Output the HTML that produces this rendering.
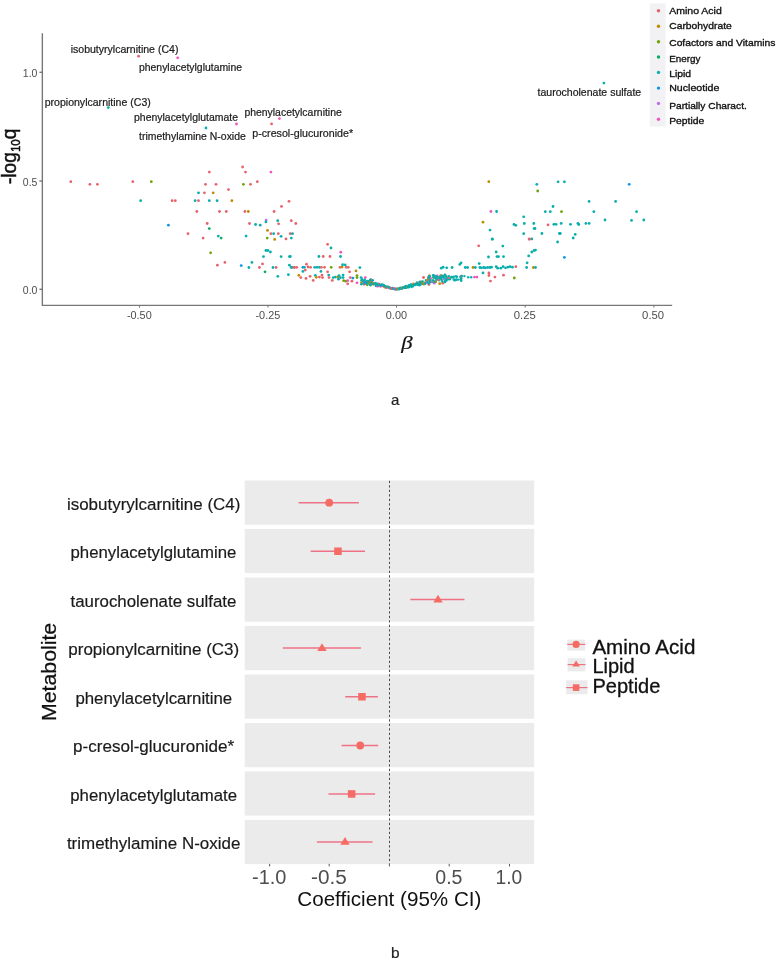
<!DOCTYPE html>
<html lang="en">
<head>
<meta charset="utf-8">
<title>Metabolite associations: volcano plot and coefficient plot</title>
<style>
  html, body { margin: 0; padding: 0; background: #ffffff; }
  body { width: 776px; height: 960px; overflow: hidden; font-family: 'Liberation Sans', Arial, Helvetica, sans-serif; }
  svg { display: block; }
  text { white-space: pre; }
</style>
</head>
<body>
<svg width="776" height="960" viewBox="0 0 776 960" role="img" aria-label="Figure with panels a and b">
<rect width="776" height="960" fill="#ffffff"/>
<g id="volcano-axes" stroke="#777777" stroke-width="1.4" fill="none">
<path d="M42.35 33.2 V305.4 H672.2"/>
<path d="M39.4 72.3 H42.4"/>
<path d="M39.4 181.0 H42.4"/>
<path d="M39.4 289.3 H42.4"/>
<path d="M139.5 305.4 V307.6" stroke-width="1.1"/>
<path d="M268.0 305.4 V307.6" stroke-width="1.1"/>
<path d="M396.5 305.4 V307.6" stroke-width="1.1"/>
<path d="M525.2 305.4 V307.6" stroke-width="1.1"/>
<path d="M653.9 305.4 V307.6" stroke-width="1.1"/>
</g>
<g id="volcano-ticklabels">
<text x="37.4" y="77.0" font-family="'Liberation Sans', Arial, Helvetica, sans-serif" font-size="10.8" fill="#4d4d4d" text-anchor="end" textLength="14.6" lengthAdjust="spacingAndGlyphs" >1.0</text>
<text x="37.4" y="185.6" font-family="'Liberation Sans', Arial, Helvetica, sans-serif" font-size="10.8" fill="#4d4d4d" text-anchor="end" textLength="14.6" lengthAdjust="spacingAndGlyphs" >0.5</text>
<text x="37.4" y="293.9" font-family="'Liberation Sans', Arial, Helvetica, sans-serif" font-size="10.8" fill="#4d4d4d" text-anchor="end" textLength="14.6" lengthAdjust="spacingAndGlyphs" >0.0</text>
<text x="126.9" y="319.0" font-family="'Liberation Sans', Arial, Helvetica, sans-serif" font-size="10.8" fill="#4d4d4d" text-anchor="start" textLength="24.8" lengthAdjust="spacingAndGlyphs" >-0.50</text>
<text x="255.5" y="319.0" font-family="'Liberation Sans', Arial, Helvetica, sans-serif" font-size="10.8" fill="#4d4d4d" text-anchor="start" textLength="24.8" lengthAdjust="spacingAndGlyphs" >-0.25</text>
<text x="385.8" y="319.0" font-family="'Liberation Sans', Arial, Helvetica, sans-serif" font-size="10.8" fill="#4d4d4d" text-anchor="start" textLength="21.2" lengthAdjust="spacingAndGlyphs" >0.00</text>
<text x="513.8" y="319.0" font-family="'Liberation Sans', Arial, Helvetica, sans-serif" font-size="10.8" fill="#4d4d4d" text-anchor="start" textLength="22.0" lengthAdjust="spacingAndGlyphs" >0.25</text>
<text x="642.1" y="319.0" font-family="'Liberation Sans', Arial, Helvetica, sans-serif" font-size="10.8" fill="#4d4d4d" text-anchor="start" textLength="22.0" lengthAdjust="spacingAndGlyphs" >0.50</text>
</g>
<text transform="translate(16.35,184.1) rotate(-90) scale(1,1.1)" font-family="'Liberation Sans', Arial, Helvetica, sans-serif" font-size="19" fill="#111" stroke="#111" stroke-width="0.45" textLength="55.6" lengthAdjust="spacingAndGlyphs">-log<tspan font-size="11.5" dy="3.2">10</tspan><tspan dy="-3.2">q</tspan></text>
<text transform="translate(401.3,349.0) scale(1.2,1)" font-family="'Liberation Serif', 'DejaVu Serif', serif" font-size="19" font-style="italic" fill="#111" stroke="#111" stroke-width="0.15">β</text>
<g id="volcano-points">
<circle cx="138.6" cy="56.2" r="1.4" fill="#E8626C"/>
<circle cx="177.7" cy="57.8" r="1.4" fill="#F056C0"/>
<circle cx="108.3" cy="107.6" r="1.4" fill="#0AAEAC"/>
<circle cx="236.5" cy="124.0" r="1.4" fill="#F056C0"/>
<circle cx="206.0" cy="128.0" r="1.4" fill="#0AAEAC"/>
<circle cx="271.6" cy="123.9" r="1.4" fill="#E8626C"/>
<circle cx="279.4" cy="118.6" r="1.4" fill="#F056C0"/>
<circle cx="603.9" cy="83.1" r="1.4" fill="#0AAEAC"/>
<circle cx="70.8" cy="181.7" r="1.4" fill="#E8626C"/>
<circle cx="89.9" cy="184.3" r="1.4" fill="#E8626C"/>
<circle cx="97.4" cy="184.3" r="1.4" fill="#E8626C"/>
<circle cx="132.8" cy="181.7" r="1.4" fill="#E8626C"/>
<circle cx="151.3" cy="181.7" r="1.4" fill="#72A208"/>
<circle cx="140.7" cy="200.7" r="1.4" fill="#0AAEAC"/>
<circle cx="172.1" cy="200.7" r="1.4" fill="#E8626C"/>
<circle cx="168.4" cy="225.2" r="1.4" fill="#0C96E6"/>
<circle cx="242.6" cy="167.0" r="1.4" fill="#E8626C"/>
<circle cx="245.5" cy="172.1" r="1.4" fill="#E8626C"/>
<circle cx="209.3" cy="172.1" r="1.4" fill="#E8626C"/>
<circle cx="270.9" cy="172.1" r="1.4" fill="#F056C0"/>
<circle cx="257.3" cy="181.7" r="1.4" fill="#E8626C"/>
<circle cx="205.5" cy="184.3" r="1.4" fill="#E8626C"/>
<circle cx="216.0" cy="184.3" r="1.4" fill="#E8626C"/>
<circle cx="243.4" cy="184.3" r="1.4" fill="#72A208"/>
<circle cx="250.5" cy="184.3" r="1.4" fill="#E8626C"/>
<circle cx="228.5" cy="189.6" r="1.4" fill="#E8626C"/>
<circle cx="198.5" cy="192.8" r="1.4" fill="#0AAEAC"/>
<circle cx="204.4" cy="192.8" r="1.4" fill="#E8626C"/>
<circle cx="213.2" cy="192.8" r="1.4" fill="#BD8B00"/>
<circle cx="175.3" cy="200.7" r="1.4" fill="#E8626C"/>
<circle cx="195.1" cy="200.7" r="1.4" fill="#0AAEAC"/>
<circle cx="198.5" cy="200.7" r="1.4" fill="#E8626C"/>
<circle cx="209.3" cy="200.7" r="1.4" fill="#0AAEAC"/>
<circle cx="217.1" cy="200.7" r="1.4" fill="#0AAEAC"/>
<circle cx="231.9" cy="200.7" r="1.4" fill="#BD8B00"/>
<circle cx="289.0" cy="201.3" r="1.4" fill="#E8626C"/>
<circle cx="281.5" cy="206.4" r="1.4" fill="#E8626C"/>
<circle cx="196.8" cy="211.5" r="1.4" fill="#E8626C"/>
<circle cx="219.5" cy="211.5" r="1.4" fill="#E8626C"/>
<circle cx="226.3" cy="211.5" r="1.4" fill="#E8626C"/>
<circle cx="244.9" cy="211.5" r="1.4" fill="#E8626C"/>
<circle cx="248.3" cy="211.5" r="1.4" fill="#BD8B00"/>
<circle cx="274.1" cy="211.5" r="1.4" fill="#E8626C"/>
<circle cx="266.2" cy="220.1" r="1.4" fill="#B672EC"/>
<circle cx="265.9" cy="221.9" r="1.4" fill="#0AAEAC"/>
<circle cx="277.7" cy="220.7" r="1.4" fill="#0AAEAC"/>
<circle cx="291.3" cy="220.7" r="1.4" fill="#E8626C"/>
<circle cx="207.2" cy="223.5" r="1.4" fill="#E8626C"/>
<circle cx="249.5" cy="223.5" r="1.4" fill="#E8626C"/>
<circle cx="278.6" cy="223.8" r="1.4" fill="#E8626C"/>
<circle cx="255.6" cy="224.5" r="1.4" fill="#0AAEAC"/>
<circle cx="260.2" cy="225.2" r="1.4" fill="#0AAEAC"/>
<circle cx="209.3" cy="228.6" r="1.4" fill="#08AC62"/>
<circle cx="267.5" cy="230.4" r="1.4" fill="#BD8B00"/>
<circle cx="188.0" cy="233.7" r="1.4" fill="#E8626C"/>
<circle cx="270.9" cy="233.7" r="1.4" fill="#E8626C"/>
<circle cx="273.7" cy="233.7" r="1.4" fill="#0AAEAC"/>
<circle cx="278.3" cy="233.7" r="1.4" fill="#E8626C"/>
<circle cx="290.2" cy="233.7" r="1.4" fill="#E8626C"/>
<circle cx="292.5" cy="233.7" r="1.4" fill="#0AAEAC"/>
<circle cx="246.1" cy="236.1" r="1.4" fill="#0AAEAC"/>
<circle cx="218.3" cy="236.1" r="1.4" fill="#0AAEAC"/>
<circle cx="221.1" cy="238.1" r="1.4" fill="#08AC62"/>
<circle cx="203.1" cy="238.1" r="1.4" fill="#E8626C"/>
<circle cx="281.1" cy="236.3" r="1.4" fill="#0AAEAC"/>
<circle cx="267.2" cy="238.1" r="1.4" fill="#72A208"/>
<circle cx="286.0" cy="238.9" r="1.4" fill="#E8626C"/>
<circle cx="291.3" cy="238.1" r="1.4" fill="#0AAEAC"/>
<circle cx="274.7" cy="239.4" r="1.4" fill="#BD8B00"/>
<circle cx="210.6" cy="252.8" r="1.4" fill="#72A208"/>
<circle cx="265.9" cy="250.5" r="1.4" fill="#0AAEAC"/>
<circle cx="267.8" cy="250.5" r="1.4" fill="#0AAEAC"/>
<circle cx="270.4" cy="252.0" r="1.4" fill="#0AAEAC"/>
<circle cx="263.5" cy="256.6" r="1.4" fill="#0AAEAC"/>
<circle cx="281.1" cy="256.6" r="1.4" fill="#0AAEAC"/>
<circle cx="289.4" cy="256.6" r="1.4" fill="#0AAEAC"/>
<circle cx="224.9" cy="262.4" r="1.4" fill="#E8626C"/>
<circle cx="251.9" cy="262.4" r="1.4" fill="#0AAEAC"/>
<circle cx="262.5" cy="263.9" r="1.4" fill="#E8626C"/>
<circle cx="217.4" cy="265.2" r="1.4" fill="#E8626C"/>
<circle cx="241.2" cy="265.6" r="1.4" fill="#0C96E6"/>
<circle cx="248.9" cy="267.5" r="1.4" fill="#0AAEAC"/>
<circle cx="259.4" cy="267.5" r="1.4" fill="#E8626C"/>
<circle cx="273.0" cy="267.5" r="1.4" fill="#0AAEAC"/>
<circle cx="276.1" cy="267.5" r="1.4" fill="#E8626C"/>
<circle cx="289.4" cy="265.2" r="1.4" fill="#0AAEAC"/>
<circle cx="291.8" cy="267.5" r="1.4" fill="#0AAEAC"/>
<circle cx="294.4" cy="267.5" r="1.4" fill="#E8626C"/>
<circle cx="265.0" cy="271.8" r="1.4" fill="#08AC62"/>
<circle cx="288.4" cy="274.7" r="1.4" fill="#0AAEAC"/>
<circle cx="277.8" cy="276.3" r="1.4" fill="#0AAEAC"/>
<circle cx="295.8" cy="223.5" r="1.4" fill="#E8626C"/>
<circle cx="327.6" cy="244.3" r="1.4" fill="#E8626C"/>
<circle cx="331.0" cy="248.0" r="1.4" fill="#0AAEAC"/>
<circle cx="340.8" cy="252.2" r="1.4" fill="#F056C0"/>
<circle cx="290.3" cy="256.5" r="1.4" fill="#0AAEAC"/>
<circle cx="318.9" cy="256.5" r="1.4" fill="#0AAEAC"/>
<circle cx="323.2" cy="256.5" r="1.4" fill="#E8626C"/>
<circle cx="330.0" cy="256.5" r="1.4" fill="#E8626C"/>
<circle cx="340.5" cy="256.5" r="1.4" fill="#0AAEAC"/>
<circle cx="291.2" cy="267.3" r="1.4" fill="#0AAEAC"/>
<circle cx="294.1" cy="267.3" r="1.4" fill="#E8626C"/>
<circle cx="296.7" cy="267.3" r="1.4" fill="#E8626C"/>
<circle cx="302.9" cy="267.3" r="1.4" fill="#0C96E6"/>
<circle cx="304.4" cy="267.3" r="1.4" fill="#0AAEAC"/>
<circle cx="306.5" cy="264.2" r="1.4" fill="#E8626C"/>
<circle cx="308.0" cy="267.0" r="1.4" fill="#E8626C"/>
<circle cx="310.6" cy="267.3" r="1.4" fill="#E8626C"/>
<circle cx="314.7" cy="267.3" r="1.4" fill="#0AAEAC"/>
<circle cx="317.0" cy="267.3" r="1.4" fill="#0AAEAC"/>
<circle cx="319.4" cy="267.3" r="1.4" fill="#0AAEAC"/>
<circle cx="321.4" cy="267.3" r="1.4" fill="#E8626C"/>
<circle cx="324.5" cy="267.3" r="1.4" fill="#E8626C"/>
<circle cx="331.2" cy="267.3" r="1.4" fill="#72A208"/>
<circle cx="340.0" cy="267.3" r="1.4" fill="#E8626C"/>
<circle cx="342.1" cy="267.0" r="1.4" fill="#BD8B00"/>
<circle cx="342.6" cy="264.7" r="1.4" fill="#0AAEAC"/>
<circle cx="345.2" cy="264.9" r="1.4" fill="#0AAEAC"/>
<circle cx="346.2" cy="267.3" r="1.4" fill="#E8626C"/>
<circle cx="348.2" cy="267.3" r="1.4" fill="#E8626C"/>
<circle cx="359.9" cy="267.6" r="1.4" fill="#0AAEAC"/>
<circle cx="302.9" cy="271.4" r="1.4" fill="#0AAEAC"/>
<circle cx="305.3" cy="270.1" r="1.4" fill="#E8626C"/>
<circle cx="320.9" cy="271.4" r="1.4" fill="#0AAEAC"/>
<circle cx="327.6" cy="271.8" r="1.4" fill="#E8626C"/>
<circle cx="349.6" cy="271.8" r="1.4" fill="#E8626C"/>
<circle cx="356.0" cy="270.9" r="1.4" fill="#BD8B00"/>
<circle cx="298.8" cy="275.3" r="1.4" fill="#BD8B00"/>
<circle cx="300.8" cy="277.6" r="1.4" fill="#E8626C"/>
<circle cx="306.0" cy="278.4" r="1.4" fill="#E8626C"/>
<circle cx="310.1" cy="276.3" r="1.4" fill="#E8626C"/>
<circle cx="315.3" cy="275.3" r="1.4" fill="#0AAEAC"/>
<circle cx="316.3" cy="277.3" r="1.4" fill="#BD8B00"/>
<circle cx="319.4" cy="277.1" r="1.4" fill="#E8626C"/>
<circle cx="322.0" cy="275.1" r="1.4" fill="#E8626C"/>
<circle cx="322.5" cy="277.6" r="1.4" fill="#E8626C"/>
<circle cx="328.7" cy="275.1" r="1.4" fill="#0AAEAC"/>
<circle cx="329.0" cy="277.6" r="1.4" fill="#E8626C"/>
<circle cx="333.3" cy="277.6" r="1.4" fill="#0AAEAC"/>
<circle cx="335.4" cy="277.1" r="1.4" fill="#0AAEAC"/>
<circle cx="337.9" cy="276.9" r="1.4" fill="#BD8B00"/>
<circle cx="339.0" cy="275.6" r="1.4" fill="#0AAEAC"/>
<circle cx="340.5" cy="277.6" r="1.4" fill="#0AAEAC"/>
<circle cx="343.1" cy="275.1" r="1.4" fill="#0AAEAC"/>
<circle cx="343.1" cy="277.6" r="1.4" fill="#0AAEAC"/>
<circle cx="343.6" cy="280.7" r="1.4" fill="#72A208"/>
<circle cx="313.2" cy="280.4" r="1.4" fill="#E8626C"/>
<circle cx="332.3" cy="280.4" r="1.4" fill="#E8626C"/>
<circle cx="338.5" cy="279.2" r="1.4" fill="#0AAEAC"/>
<circle cx="345.7" cy="281.2" r="1.4" fill="#72A208"/>
<circle cx="347.7" cy="283.8" r="1.4" fill="#E8626C"/>
<circle cx="347.7" cy="280.7" r="1.4" fill="#F056C0"/>
<circle cx="350.3" cy="277.6" r="1.4" fill="#E8626C"/>
<circle cx="351.9" cy="281.2" r="1.4" fill="#E8626C"/>
<circle cx="352.9" cy="278.1" r="1.4" fill="#0C96E6"/>
<circle cx="357.0" cy="275.6" r="1.4" fill="#72A208"/>
<circle cx="357.0" cy="277.6" r="1.4" fill="#72A208"/>
<circle cx="357.0" cy="282.8" r="1.4" fill="#F056C0"/>
<circle cx="361.1" cy="277.6" r="1.4" fill="#0AAEAC"/>
<circle cx="365.3" cy="277.6" r="1.4" fill="#F056C0"/>
<circle cx="363.7" cy="281.2" r="1.4" fill="#0AAEAC"/>
<circle cx="367.3" cy="281.2" r="1.4" fill="#0AAEAC"/>
<circle cx="364.2" cy="284.3" r="1.4" fill="#E8626C"/>
<circle cx="368.9" cy="283.3" r="1.4" fill="#0AAEAC"/>
<circle cx="488.8" cy="181.7" r="1.4" fill="#BD8B00"/>
<circle cx="490.9" cy="211.5" r="1.4" fill="#F056C0"/>
<circle cx="496.6" cy="211.5" r="1.4" fill="#0AAEAC"/>
<circle cx="483.0" cy="222.2" r="1.4" fill="#BD8B00"/>
<circle cx="490.0" cy="230.1" r="1.4" fill="#0AAEAC"/>
<circle cx="492.3" cy="238.9" r="1.4" fill="#0AAEAC"/>
<circle cx="523.7" cy="216.8" r="1.4" fill="#0AAEAC"/>
<circle cx="514.0" cy="224.5" r="1.4" fill="#0AAEAC"/>
<circle cx="515.8" cy="225.3" r="1.4" fill="#0AAEAC"/>
<circle cx="524.3" cy="223.5" r="1.4" fill="#0AAEAC"/>
<circle cx="533.8" cy="223.5" r="1.4" fill="#0AAEAC"/>
<circle cx="534.1" cy="228.6" r="1.4" fill="#0AAEAC"/>
<circle cx="523.7" cy="233.7" r="1.4" fill="#0AAEAC"/>
<circle cx="529.1" cy="238.9" r="1.4" fill="#E8626C"/>
<circle cx="531.8" cy="238.9" r="1.4" fill="#0AAEAC"/>
<circle cx="492.3" cy="239.3" r="1.4" fill="#0AAEAC"/>
<circle cx="529.4" cy="239.3" r="1.4" fill="#E8626C"/>
<circle cx="478.7" cy="245.8" r="1.4" fill="#E8626C"/>
<circle cx="502.8" cy="246.1" r="1.4" fill="#0AAEAC"/>
<circle cx="496.2" cy="252.0" r="1.4" fill="#0AAEAC"/>
<circle cx="488.5" cy="257.0" r="1.4" fill="#0AAEAC"/>
<circle cx="497.0" cy="256.6" r="1.4" fill="#0AAEAC"/>
<circle cx="498.5" cy="256.6" r="1.4" fill="#0AAEAC"/>
<circle cx="503.5" cy="256.6" r="1.4" fill="#0AAEAC"/>
<circle cx="528.7" cy="255.9" r="1.4" fill="#0AAEAC"/>
<circle cx="531.8" cy="252.0" r="1.4" fill="#0AAEAC"/>
<circle cx="534.1" cy="250.5" r="1.4" fill="#0AAEAC"/>
<circle cx="461.1" cy="262.8" r="1.4" fill="#0AAEAC"/>
<circle cx="459.8" cy="264.4" r="1.4" fill="#0AAEAC"/>
<circle cx="479.2" cy="263.6" r="1.4" fill="#0AAEAC"/>
<circle cx="527.1" cy="262.8" r="1.4" fill="#0AAEAC"/>
<circle cx="441.3" cy="268.2" r="1.4" fill="#0AAEAC"/>
<circle cx="443.1" cy="267.2" r="1.4" fill="#0AAEAC"/>
<circle cx="446.7" cy="267.8" r="1.4" fill="#0AAEAC"/>
<circle cx="452.1" cy="267.5" r="1.4" fill="#0AAEAC"/>
<circle cx="465.3" cy="267.5" r="1.4" fill="#0AAEAC"/>
<circle cx="467.6" cy="267.5" r="1.4" fill="#0AAEAC"/>
<circle cx="473.0" cy="267.5" r="1.4" fill="#BD8B00"/>
<circle cx="475.3" cy="267.5" r="1.4" fill="#0AAEAC"/>
<circle cx="479.9" cy="267.5" r="1.4" fill="#0AAEAC"/>
<circle cx="481.5" cy="267.8" r="1.4" fill="#0AAEAC"/>
<circle cx="483.8" cy="267.5" r="1.4" fill="#0AAEAC"/>
<circle cx="485.4" cy="267.8" r="1.4" fill="#0AAEAC"/>
<circle cx="487.7" cy="267.5" r="1.4" fill="#0AAEAC"/>
<circle cx="490.0" cy="267.5" r="1.4" fill="#0AAEAC"/>
<circle cx="491.5" cy="267.2" r="1.4" fill="#0AAEAC"/>
<circle cx="496.2" cy="266.7" r="1.4" fill="#0AAEAC"/>
<circle cx="497.7" cy="268.2" r="1.4" fill="#0AAEAC"/>
<circle cx="500.8" cy="268.2" r="1.4" fill="#0AAEAC"/>
<circle cx="503.1" cy="266.7" r="1.4" fill="#0AAEAC"/>
<circle cx="505.5" cy="267.8" r="1.4" fill="#0AAEAC"/>
<circle cx="507.8" cy="267.2" r="1.4" fill="#0AAEAC"/>
<circle cx="510.1" cy="266.7" r="1.4" fill="#0AAEAC"/>
<circle cx="512.4" cy="267.2" r="1.4" fill="#0AAEAC"/>
<circle cx="515.8" cy="266.7" r="1.4" fill="#E8626C"/>
<circle cx="526.6" cy="267.5" r="1.4" fill="#0AAEAC"/>
<circle cx="533.3" cy="267.5" r="1.4" fill="#BD8B00"/>
<circle cx="483.0" cy="272.9" r="1.4" fill="#0AAEAC"/>
<circle cx="488.9" cy="272.9" r="1.4" fill="#E8626C"/>
<circle cx="488.9" cy="275.5" r="1.4" fill="#E8626C"/>
<circle cx="503.5" cy="275.2" r="1.4" fill="#E8626C"/>
<circle cx="494.9" cy="277.1" r="1.4" fill="#E8626C"/>
<circle cx="514.3" cy="278.0" r="1.4" fill="#72A208"/>
<circle cx="490.5" cy="281.1" r="1.4" fill="#E8626C"/>
<circle cx="474.5" cy="277.1" r="1.4" fill="#F056C0"/>
<circle cx="476.9" cy="277.1" r="1.4" fill="#F056C0"/>
<circle cx="423.5" cy="277.5" r="1.4" fill="#E8626C"/>
<circle cx="445.2" cy="275.2" r="1.4" fill="#E8626C"/>
<circle cx="428.9" cy="284.5" r="1.4" fill="#E8626C"/>
<circle cx="434.3" cy="283.2" r="1.4" fill="#B672EC"/>
<circle cx="439.7" cy="283.7" r="1.4" fill="#BD8B00"/>
<circle cx="442.8" cy="283.2" r="1.4" fill="#E8626C"/>
<circle cx="536.8" cy="184.3" r="1.4" fill="#0AAEAC"/>
<circle cx="537.7" cy="191.0" r="1.4" fill="#72A208"/>
<circle cx="558.1" cy="181.8" r="1.4" fill="#0AAEAC"/>
<circle cx="564.4" cy="181.8" r="1.4" fill="#0AAEAC"/>
<circle cx="629.2" cy="184.3" r="1.4" fill="#0C96E6"/>
<circle cx="589.1" cy="201.4" r="1.4" fill="#0AAEAC"/>
<circle cx="615.6" cy="201.4" r="1.4" fill="#0AAEAC"/>
<circle cx="553.0" cy="206.5" r="1.4" fill="#0AAEAC"/>
<circle cx="545.3" cy="211.7" r="1.4" fill="#0AAEAC"/>
<circle cx="550.3" cy="211.7" r="1.4" fill="#0AAEAC"/>
<circle cx="561.5" cy="211.7" r="1.4" fill="#72A208"/>
<circle cx="593.8" cy="211.7" r="1.4" fill="#0AAEAC"/>
<circle cx="636.6" cy="211.7" r="1.4" fill="#0AAEAC"/>
<circle cx="605.0" cy="220.0" r="1.4" fill="#0AAEAC"/>
<circle cx="631.5" cy="220.4" r="1.4" fill="#0AAEAC"/>
<circle cx="643.8" cy="220.0" r="1.4" fill="#0AAEAC"/>
<circle cx="548.0" cy="224.9" r="1.4" fill="#E8626C"/>
<circle cx="553.9" cy="224.3" r="1.4" fill="#0AAEAC"/>
<circle cx="556.1" cy="224.3" r="1.4" fill="#0AAEAC"/>
<circle cx="561.2" cy="223.4" r="1.4" fill="#0AAEAC"/>
<circle cx="570.5" cy="224.3" r="1.4" fill="#0AAEAC"/>
<circle cx="577.9" cy="223.4" r="1.4" fill="#0AAEAC"/>
<circle cx="578.8" cy="224.5" r="1.4" fill="#0AAEAC"/>
<circle cx="585.9" cy="223.4" r="1.4" fill="#0AAEAC"/>
<circle cx="589.1" cy="223.4" r="1.4" fill="#0AAEAC"/>
<circle cx="535.0" cy="228.5" r="1.4" fill="#0AAEAC"/>
<circle cx="541.9" cy="233.5" r="1.4" fill="#0AAEAC"/>
<circle cx="559.4" cy="233.5" r="1.4" fill="#0AAEAC"/>
<circle cx="560.3" cy="233.5" r="1.4" fill="#0AAEAC"/>
<circle cx="575.2" cy="234.4" r="1.4" fill="#0AAEAC"/>
<circle cx="573.2" cy="238.0" r="1.4" fill="#0AAEAC"/>
<circle cx="557.6" cy="242.0" r="1.4" fill="#0AAEAC"/>
<circle cx="535.5" cy="250.1" r="1.4" fill="#0AAEAC"/>
<circle cx="564.4" cy="257.4" r="1.4" fill="#0C96E6"/>
<circle cx="535.5" cy="267.5" r="1.4" fill="#0AAEAC"/>
<circle cx="362.1" cy="279.2" r="1.2" fill="#0AAEAC"/>
<circle cx="362.5" cy="281.4" r="1.2" fill="#E8626C"/>
<circle cx="363.2" cy="283.6" r="1.2" fill="#0AAEAC"/>
<circle cx="363.4" cy="281.1" r="1.2" fill="#0AAEAC"/>
<circle cx="364.0" cy="281.8" r="1.2" fill="#0AAEAC"/>
<circle cx="364.7" cy="279.8" r="1.2" fill="#0AAEAC"/>
<circle cx="365.1" cy="282.2" r="1.2" fill="#0AAEAC"/>
<circle cx="365.5" cy="281.4" r="1.2" fill="#0AAEAC"/>
<circle cx="365.7" cy="283.8" r="1.2" fill="#E8626C"/>
<circle cx="366.3" cy="282.3" r="1.2" fill="#E8626C"/>
<circle cx="366.9" cy="283.1" r="1.2" fill="#0AAEAC"/>
<circle cx="367.3" cy="283.0" r="1.2" fill="#E8626C"/>
<circle cx="367.6" cy="283.4" r="1.2" fill="#0AAEAC"/>
<circle cx="368.3" cy="282.5" r="1.2" fill="#72A208"/>
<circle cx="368.8" cy="282.5" r="1.2" fill="#BD8B00"/>
<circle cx="369.1" cy="281.6" r="1.2" fill="#0AAEAC"/>
<circle cx="369.7" cy="281.7" r="1.2" fill="#E8626C"/>
<circle cx="370.1" cy="284.7" r="1.2" fill="#BD8B00"/>
<circle cx="370.4" cy="285.2" r="1.2" fill="#0AAEAC"/>
<circle cx="371.0" cy="281.8" r="1.2" fill="#E8626C"/>
<circle cx="371.3" cy="283.2" r="1.2" fill="#0AAEAC"/>
<circle cx="372.1" cy="281.7" r="1.2" fill="#E8626C"/>
<circle cx="372.3" cy="282.9" r="1.2" fill="#0C96E6"/>
<circle cx="372.8" cy="283.5" r="1.2" fill="#0AAEAC"/>
<circle cx="373.5" cy="283.7" r="1.2" fill="#0AAEAC"/>
<circle cx="373.5" cy="284.6" r="1.2" fill="#BD8B00"/>
<circle cx="374.1" cy="283.5" r="1.2" fill="#E8626C"/>
<circle cx="374.4" cy="283.9" r="1.2" fill="#0AAEAC"/>
<circle cx="375.2" cy="284.2" r="1.2" fill="#0AAEAC"/>
<circle cx="375.7" cy="282.9" r="1.2" fill="#0AAEAC"/>
<circle cx="376.0" cy="285.9" r="1.2" fill="#0C96E6"/>
<circle cx="376.3" cy="284.3" r="1.2" fill="#0AAEAC"/>
<circle cx="377.1" cy="285.8" r="1.2" fill="#0AAEAC"/>
<circle cx="377.5" cy="286.4" r="1.2" fill="#F056C0"/>
<circle cx="378.1" cy="283.7" r="1.2" fill="#0AAEAC"/>
<circle cx="378.2" cy="285.4" r="1.2" fill="#0AAEAC"/>
<circle cx="378.8" cy="285.3" r="1.2" fill="#0AAEAC"/>
<circle cx="379.1" cy="284.0" r="1.2" fill="#E8626C"/>
<circle cx="379.8" cy="284.7" r="1.2" fill="#0AAEAC"/>
<circle cx="380.3" cy="285.4" r="1.2" fill="#0AAEAC"/>
<circle cx="380.6" cy="286.6" r="1.2" fill="#F056C0"/>
<circle cx="381.0" cy="285.2" r="1.2" fill="#0C96E6"/>
<circle cx="381.6" cy="284.4" r="1.2" fill="#0AAEAC"/>
<circle cx="382.2" cy="285.7" r="1.2" fill="#0AAEAC"/>
<circle cx="382.4" cy="284.6" r="1.2" fill="#0AAEAC"/>
<circle cx="383.0" cy="286.1" r="1.2" fill="#E8626C"/>
<circle cx="383.4" cy="285.0" r="1.2" fill="#0AAEAC"/>
<circle cx="383.9" cy="285.3" r="1.2" fill="#0AAEAC"/>
<circle cx="384.5" cy="286.6" r="1.2" fill="#0C96E6"/>
<circle cx="384.6" cy="287.3" r="1.2" fill="#BD8B00"/>
<circle cx="385.2" cy="286.1" r="1.2" fill="#0AAEAC"/>
<circle cx="385.5" cy="286.2" r="1.2" fill="#0AAEAC"/>
<circle cx="386.1" cy="287.2" r="1.2" fill="#0AAEAC"/>
<circle cx="386.5" cy="287.9" r="1.2" fill="#E8626C"/>
<circle cx="386.9" cy="287.0" r="1.2" fill="#0AAEAC"/>
<circle cx="387.6" cy="286.7" r="1.2" fill="#0AAEAC"/>
<circle cx="388.1" cy="286.7" r="1.2" fill="#E8626C"/>
<circle cx="388.6" cy="287.1" r="1.2" fill="#0AAEAC"/>
<circle cx="388.9" cy="288.0" r="1.2" fill="#E8626C"/>
<circle cx="389.4" cy="287.8" r="1.2" fill="#0AAEAC"/>
<circle cx="390.0" cy="288.3" r="1.2" fill="#0AAEAC"/>
<circle cx="390.2" cy="287.7" r="1.2" fill="#0AAEAC"/>
<circle cx="391.0" cy="288.4" r="1.2" fill="#0C96E6"/>
<circle cx="391.1" cy="288.3" r="1.2" fill="#E8626C"/>
<circle cx="391.6" cy="288.8" r="1.2" fill="#E8626C"/>
<circle cx="392.3" cy="288.0" r="1.2" fill="#0AAEAC"/>
<circle cx="392.4" cy="288.2" r="1.2" fill="#E8626C"/>
<circle cx="392.9" cy="288.5" r="1.2" fill="#0AAEAC"/>
<circle cx="393.5" cy="288.7" r="1.2" fill="#0AAEAC"/>
<circle cx="394.1" cy="288.1" r="1.2" fill="#F056C0"/>
<circle cx="394.6" cy="289.1" r="1.2" fill="#0C96E6"/>
<circle cx="395.1" cy="288.8" r="1.2" fill="#E8626C"/>
<circle cx="395.2" cy="289.4" r="1.2" fill="#F056C0"/>
<circle cx="395.8" cy="289.3" r="1.2" fill="#0AAEAC"/>
<circle cx="396.4" cy="288.8" r="1.2" fill="#0AAEAC"/>
<circle cx="361.3" cy="282.8" r="1.2" fill="#BD8B00"/>
<circle cx="370.7" cy="280.0" r="1.2" fill="#0C96E6"/>
<circle cx="368.9" cy="281.3" r="1.2" fill="#0AAEAC"/>
<circle cx="361.3" cy="284.2" r="1.2" fill="#0AAEAC"/>
<circle cx="367.3" cy="285.1" r="1.2" fill="#72A208"/>
<circle cx="372.8" cy="280.3" r="1.2" fill="#0AAEAC"/>
<circle cx="361.3" cy="280.4" r="1.2" fill="#0AAEAC"/>
<circle cx="370.2" cy="281.1" r="1.2" fill="#72A208"/>
<circle cx="371.0" cy="279.4" r="1.2" fill="#E8626C"/>
<circle cx="371.8" cy="283.3" r="1.2" fill="#72A208"/>
<circle cx="370.9" cy="284.7" r="1.2" fill="#0AAEAC"/>
<circle cx="367.4" cy="282.4" r="1.2" fill="#0AAEAC"/>
<circle cx="371.5" cy="284.0" r="1.2" fill="#0AAEAC"/>
<circle cx="370.3" cy="280.0" r="1.2" fill="#0AAEAC"/>
<circle cx="366.7" cy="283.7" r="1.2" fill="#0AAEAC"/>
<circle cx="364.9" cy="282.4" r="1.2" fill="#0C96E6"/>
<circle cx="370.4" cy="279.7" r="1.2" fill="#0AAEAC"/>
<circle cx="364.0" cy="280.8" r="1.2" fill="#0AAEAC"/>
<circle cx="396.7" cy="289.2" r="1.2" fill="#0AAEAC"/>
<circle cx="397.1" cy="289.2" r="1.2" fill="#BD8B00"/>
<circle cx="397.6" cy="288.6" r="1.2" fill="#0AAEAC"/>
<circle cx="398.0" cy="288.9" r="1.2" fill="#F056C0"/>
<circle cx="398.4" cy="288.4" r="1.2" fill="#BD8B00"/>
<circle cx="399.0" cy="289.2" r="1.2" fill="#0AAEAC"/>
<circle cx="399.5" cy="289.0" r="1.2" fill="#0AAEAC"/>
<circle cx="399.9" cy="287.9" r="1.2" fill="#0AAEAC"/>
<circle cx="400.1" cy="288.1" r="1.2" fill="#0AAEAC"/>
<circle cx="400.6" cy="287.8" r="1.2" fill="#0AAEAC"/>
<circle cx="401.2" cy="288.7" r="1.2" fill="#0AAEAC"/>
<circle cx="401.6" cy="288.2" r="1.2" fill="#0AAEAC"/>
<circle cx="401.7" cy="288.6" r="1.2" fill="#E8626C"/>
<circle cx="402.2" cy="288.6" r="1.2" fill="#0AAEAC"/>
<circle cx="402.9" cy="287.1" r="1.2" fill="#0AAEAC"/>
<circle cx="403.0" cy="287.5" r="1.2" fill="#BD8B00"/>
<circle cx="403.6" cy="287.4" r="1.2" fill="#0AAEAC"/>
<circle cx="404.0" cy="287.9" r="1.2" fill="#0AAEAC"/>
<circle cx="404.4" cy="287.3" r="1.2" fill="#0AAEAC"/>
<circle cx="404.9" cy="287.3" r="1.2" fill="#0AAEAC"/>
<circle cx="405.3" cy="286.2" r="1.2" fill="#0AAEAC"/>
<circle cx="406.0" cy="286.1" r="1.2" fill="#0AAEAC"/>
<circle cx="406.1" cy="287.9" r="1.2" fill="#0AAEAC"/>
<circle cx="406.5" cy="286.0" r="1.2" fill="#0AAEAC"/>
<circle cx="407.2" cy="287.1" r="1.2" fill="#0AAEAC"/>
<circle cx="407.5" cy="286.7" r="1.2" fill="#BD8B00"/>
<circle cx="408.0" cy="287.0" r="1.2" fill="#0AAEAC"/>
<circle cx="408.3" cy="287.2" r="1.2" fill="#0AAEAC"/>
<circle cx="408.8" cy="285.2" r="1.2" fill="#0AAEAC"/>
<circle cx="409.3" cy="287.0" r="1.2" fill="#0AAEAC"/>
<circle cx="409.7" cy="285.3" r="1.2" fill="#0AAEAC"/>
<circle cx="410.2" cy="285.8" r="1.2" fill="#0AAEAC"/>
<circle cx="410.7" cy="285.6" r="1.2" fill="#0AAEAC"/>
<circle cx="411.0" cy="284.5" r="1.2" fill="#0AAEAC"/>
<circle cx="411.6" cy="287.0" r="1.2" fill="#0AAEAC"/>
<circle cx="411.6" cy="284.8" r="1.2" fill="#0AAEAC"/>
<circle cx="412.3" cy="285.6" r="1.2" fill="#0AAEAC"/>
<circle cx="412.6" cy="285.4" r="1.2" fill="#0AAEAC"/>
<circle cx="413.0" cy="286.3" r="1.2" fill="#0AAEAC"/>
<circle cx="413.3" cy="283.7" r="1.2" fill="#BD8B00"/>
<circle cx="414.0" cy="284.1" r="1.2" fill="#F056C0"/>
<circle cx="414.3" cy="284.8" r="1.2" fill="#0AAEAC"/>
<circle cx="414.9" cy="285.0" r="1.2" fill="#0AAEAC"/>
<circle cx="415.5" cy="284.1" r="1.2" fill="#0AAEAC"/>
<circle cx="415.9" cy="284.1" r="1.2" fill="#0AAEAC"/>
<circle cx="416.1" cy="284.1" r="1.2" fill="#0AAEAC"/>
<circle cx="416.7" cy="282.7" r="1.2" fill="#0AAEAC"/>
<circle cx="417.0" cy="282.8" r="1.2" fill="#0AAEAC"/>
<circle cx="417.6" cy="284.9" r="1.2" fill="#0AAEAC"/>
<circle cx="417.9" cy="284.9" r="1.2" fill="#0AAEAC"/>
<circle cx="418.3" cy="282.8" r="1.2" fill="#E8626C"/>
<circle cx="418.5" cy="283.5" r="1.2" fill="#0AAEAC"/>
<circle cx="419.3" cy="284.0" r="1.2" fill="#0AAEAC"/>
<circle cx="419.4" cy="285.3" r="1.2" fill="#0AAEAC"/>
<circle cx="419.9" cy="281.7" r="1.2" fill="#0AAEAC"/>
<circle cx="420.3" cy="282.7" r="1.2" fill="#0AAEAC"/>
<circle cx="420.8" cy="284.6" r="1.2" fill="#0AAEAC"/>
<circle cx="421.2" cy="281.7" r="1.2" fill="#0AAEAC"/>
<circle cx="421.8" cy="282.8" r="1.2" fill="#0AAEAC"/>
<circle cx="422.1" cy="282.0" r="1.2" fill="#BD8B00"/>
<circle cx="422.7" cy="281.5" r="1.2" fill="#0AAEAC"/>
<circle cx="423.1" cy="283.9" r="1.2" fill="#F056C0"/>
<circle cx="423.3" cy="283.9" r="1.2" fill="#0AAEAC"/>
<circle cx="423.7" cy="284.3" r="1.2" fill="#BD8B00"/>
<circle cx="424.4" cy="283.7" r="1.2" fill="#BD8B00"/>
<circle cx="424.6" cy="282.7" r="1.2" fill="#BD8B00"/>
<circle cx="425.2" cy="283.9" r="1.2" fill="#0AAEAC"/>
<circle cx="425.8" cy="282.7" r="1.2" fill="#0AAEAC"/>
<circle cx="425.9" cy="280.1" r="1.2" fill="#0AAEAC"/>
<circle cx="426.7" cy="281.5" r="1.2" fill="#E8626C"/>
<circle cx="426.9" cy="282.7" r="1.2" fill="#B672EC"/>
<circle cx="427.4" cy="281.9" r="1.2" fill="#0AAEAC"/>
<circle cx="427.7" cy="279.7" r="1.2" fill="#BD8B00"/>
<circle cx="428.4" cy="279.6" r="1.2" fill="#BD8B00"/>
<circle cx="428.4" cy="282.9" r="1.2" fill="#0AAEAC"/>
<circle cx="429.2" cy="283.3" r="1.2" fill="#0AAEAC"/>
<circle cx="429.6" cy="279.9" r="1.2" fill="#E8626C"/>
<circle cx="429.9" cy="280.7" r="1.2" fill="#F056C0"/>
<circle cx="430.5" cy="280.0" r="1.2" fill="#0AAEAC"/>
<circle cx="430.8" cy="281.9" r="1.2" fill="#0AAEAC"/>
<circle cx="440.0" cy="277.3" r="1.2" fill="#0AAEAC"/>
<circle cx="440.4" cy="275.8" r="1.2" fill="#F056C0"/>
<circle cx="429.2" cy="276.8" r="1.2" fill="#0AAEAC"/>
<circle cx="441.8" cy="279.9" r="1.2" fill="#0AAEAC"/>
<circle cx="442.2" cy="276.9" r="1.2" fill="#E8626C"/>
<circle cx="437.3" cy="275.7" r="1.2" fill="#B672EC"/>
<circle cx="432.0" cy="282.1" r="1.2" fill="#F056C0"/>
<circle cx="428.4" cy="278.2" r="1.2" fill="#BD8B00"/>
<circle cx="447.4" cy="278.2" r="1.2" fill="#0AAEAC"/>
<circle cx="435.7" cy="281.7" r="1.2" fill="#0AAEAC"/>
<circle cx="429.5" cy="275.5" r="1.2" fill="#BD8B00"/>
<circle cx="433.2" cy="277.5" r="1.2" fill="#BD8B00"/>
<circle cx="433.6" cy="275.6" r="1.2" fill="#0AAEAC"/>
<circle cx="432.6" cy="281.5" r="1.2" fill="#F056C0"/>
<circle cx="435.9" cy="276.0" r="1.2" fill="#F056C0"/>
<circle cx="441.6" cy="277.8" r="1.2" fill="#0AAEAC"/>
<circle cx="436.3" cy="277.6" r="1.2" fill="#0AAEAC"/>
<circle cx="444.8" cy="274.8" r="1.2" fill="#0AAEAC"/>
<circle cx="444.8" cy="275.7" r="1.2" fill="#0AAEAC"/>
<circle cx="442.3" cy="281.6" r="1.2" fill="#0AAEAC"/>
<circle cx="433.1" cy="275.3" r="1.2" fill="#0AAEAC"/>
<circle cx="448.0" cy="279.2" r="1.2" fill="#0AAEAC"/>
<circle cx="446.5" cy="280.5" r="1.2" fill="#0AAEAC"/>
<circle cx="433.6" cy="275.2" r="1.2" fill="#0AAEAC"/>
<circle cx="440.7" cy="275.9" r="1.2" fill="#0AAEAC"/>
<circle cx="436.7" cy="277.2" r="1.2" fill="#0AAEAC"/>
<circle cx="443.7" cy="278.0" r="1.2" fill="#0AAEAC"/>
<circle cx="444.2" cy="279.5" r="1.2" fill="#B672EC"/>
<circle cx="439.0" cy="280.2" r="1.2" fill="#0AAEAC"/>
<circle cx="446.7" cy="277.9" r="1.2" fill="#0AAEAC"/>
<circle cx="440.9" cy="276.9" r="1.2" fill="#0AAEAC"/>
<circle cx="446.2" cy="278.9" r="1.2" fill="#0AAEAC"/>
<circle cx="437.4" cy="277.4" r="1.2" fill="#0AAEAC"/>
<circle cx="433.1" cy="280.3" r="1.2" fill="#0AAEAC"/>
<circle cx="436.1" cy="276.6" r="1.2" fill="#F056C0"/>
<circle cx="439.1" cy="277.8" r="1.2" fill="#0AAEAC"/>
<circle cx="440.9" cy="275.4" r="1.2" fill="#BD8B00"/>
<circle cx="446.1" cy="278.5" r="1.2" fill="#0AAEAC"/>
<circle cx="437.1" cy="277.3" r="1.2" fill="#E8626C"/>
<circle cx="436.5" cy="278.9" r="1.2" fill="#0AAEAC"/>
<circle cx="429.8" cy="277.4" r="1.2" fill="#0AAEAC"/>
<circle cx="434.4" cy="277.6" r="1.2" fill="#0AAEAC"/>
<circle cx="445.7" cy="280.4" r="1.2" fill="#0AAEAC"/>
<circle cx="435.7" cy="280.4" r="1.2" fill="#0AAEAC"/>
<circle cx="435.5" cy="277.3" r="1.2" fill="#0AAEAC"/>
<circle cx="438.0" cy="279.1" r="1.2" fill="#0AAEAC"/>
<circle cx="430.5" cy="278.6" r="1.2" fill="#0AAEAC"/>
<circle cx="429.9" cy="281.5" r="1.2" fill="#0AAEAC"/>
<circle cx="436.0" cy="278.1" r="1.2" fill="#0AAEAC"/>
<circle cx="445.0" cy="281.3" r="1.2" fill="#0AAEAC"/>
<circle cx="430.5" cy="278.0" r="1.2" fill="#F056C0"/>
<circle cx="447.4" cy="278.5" r="1.2" fill="#0AAEAC"/>
<circle cx="435.8" cy="281.8" r="1.2" fill="#BD8B00"/>
<circle cx="445.1" cy="282.1" r="1.2" fill="#0AAEAC"/>
<circle cx="443.7" cy="276.5" r="1.2" fill="#0AAEAC"/>
<circle cx="438.4" cy="279.9" r="1.2" fill="#E8626C"/>
<circle cx="429.7" cy="280.6" r="1.2" fill="#0AAEAC"/>
<circle cx="443.6" cy="276.5" r="1.2" fill="#0AAEAC"/>
<circle cx="440.9" cy="277.1" r="1.2" fill="#0AAEAC"/>
<circle cx="440.5" cy="278.8" r="1.2" fill="#0AAEAC"/>
<circle cx="442.0" cy="275.6" r="1.2" fill="#0AAEAC"/>
<circle cx="434.0" cy="281.9" r="1.2" fill="#0AAEAC"/>
<circle cx="435.8" cy="276.5" r="1.2" fill="#0AAEAC"/>
<circle cx="428.2" cy="277.1" r="1.2" fill="#E8626C"/>
<circle cx="433.6" cy="277.2" r="1.2" fill="#0AAEAC"/>
<circle cx="437.5" cy="276.6" r="1.2" fill="#0AAEAC"/>
<circle cx="428.6" cy="277.9" r="1.2" fill="#0AAEAC"/>
<circle cx="429.1" cy="276.3" r="1.2" fill="#0AAEAC"/>
<circle cx="429.6" cy="276.5" r="1.2" fill="#0AAEAC"/>
<circle cx="446.5" cy="276.5" r="1.2" fill="#0AAEAC"/>
<circle cx="460.5" cy="279.4" r="1.2" fill="#0AAEAC"/>
<circle cx="460.3" cy="276.8" r="1.2" fill="#0AAEAC"/>
<circle cx="461.3" cy="278.3" r="1.2" fill="#0AAEAC"/>
<circle cx="456.9" cy="276.8" r="1.2" fill="#0AAEAC"/>
<circle cx="452.2" cy="276.9" r="1.2" fill="#0AAEAC"/>
<circle cx="450.0" cy="278.9" r="1.2" fill="#0AAEAC"/>
<circle cx="451.4" cy="276.9" r="1.2" fill="#0AAEAC"/>
<circle cx="464.4" cy="276.1" r="1.2" fill="#0AAEAC"/>
<circle cx="450.6" cy="277.8" r="1.2" fill="#0AAEAC"/>
<circle cx="448.4" cy="278.8" r="1.2" fill="#0AAEAC"/>
<circle cx="448.9" cy="276.1" r="1.2" fill="#0AAEAC"/>
<circle cx="456.1" cy="279.4" r="1.2" fill="#0AAEAC"/>
<circle cx="461.2" cy="280.8" r="1.2" fill="#0AAEAC"/>
<circle cx="453.9" cy="276.7" r="1.2" fill="#0AAEAC"/>
<circle cx="461.4" cy="276.0" r="1.2" fill="#E8626C"/>
<circle cx="461.1" cy="280.0" r="1.2" fill="#0AAEAC"/>
<circle cx="456.0" cy="276.3" r="1.2" fill="#0AAEAC"/>
<circle cx="453.0" cy="277.6" r="1.2" fill="#0AAEAC"/>
<circle cx="458.1" cy="279.6" r="1.2" fill="#0AAEAC"/>
<circle cx="454.4" cy="279.9" r="1.2" fill="#0AAEAC"/>
<circle cx="449.6" cy="279.3" r="1.2" fill="#0AAEAC"/>
<circle cx="454.7" cy="280.4" r="1.2" fill="#0AAEAC"/>
<circle cx="453.8" cy="279.5" r="1.2" fill="#0AAEAC"/>
<circle cx="448.5" cy="277.9" r="1.2" fill="#E8626C"/>
<circle cx="461.8" cy="276.0" r="1.2" fill="#0AAEAC"/>
<circle cx="456.4" cy="279.8" r="1.2" fill="#0AAEAC"/>
<circle cx="468.2" cy="277.2" r="1.2" fill="#0AAEAC"/>
<circle cx="471.2" cy="277.2" r="1.2" fill="#0AAEAC"/>
</g>
<g id="volcano-labels">
<text x="70.7" y="52.7" font-family="'Liberation Sans', Arial, Helvetica, sans-serif" font-size="10.6" fill="#1c1c1c" text-anchor="start" textLength="107.7" lengthAdjust="spacingAndGlyphs" stroke="#1c1c1c" stroke-width="0.22">isobutyrylcarnitine (C4)</text>
<text x="139.0" y="70.5" font-family="'Liberation Sans', Arial, Helvetica, sans-serif" font-size="10.6" fill="#1c1c1c" text-anchor="start" textLength="103.0" lengthAdjust="spacingAndGlyphs" stroke="#1c1c1c" stroke-width="0.22">phenylacetylglutamine</text>
<text x="44.7" y="105.5" font-family="'Liberation Sans', Arial, Helvetica, sans-serif" font-size="10.6" fill="#1c1c1c" text-anchor="start" textLength="106.1" lengthAdjust="spacingAndGlyphs" stroke="#1c1c1c" stroke-width="0.22">propionylcarnitine (C3)</text>
<text x="134.0" y="121.0" font-family="'Liberation Sans', Arial, Helvetica, sans-serif" font-size="10.6" fill="#1c1c1c" text-anchor="start" textLength="104.1" lengthAdjust="spacingAndGlyphs" stroke="#1c1c1c" stroke-width="0.22">phenylacetylglutamate</text>
<text x="139.0" y="139.6" font-family="'Liberation Sans', Arial, Helvetica, sans-serif" font-size="10.6" fill="#1c1c1c" text-anchor="start" textLength="106.8" lengthAdjust="spacingAndGlyphs" stroke="#1c1c1c" stroke-width="0.22">trimethylamine N-oxide</text>
<text x="244.4" y="115.8" font-family="'Liberation Sans', Arial, Helvetica, sans-serif" font-size="10.6" fill="#1c1c1c" text-anchor="start" textLength="97.4" lengthAdjust="spacingAndGlyphs" stroke="#1c1c1c" stroke-width="0.22">phenylacetylcarnitine</text>
<text x="252.3" y="137.1" font-family="'Liberation Sans', Arial, Helvetica, sans-serif" font-size="10.6" fill="#1c1c1c" text-anchor="start" textLength="100.8" lengthAdjust="spacingAndGlyphs" stroke="#1c1c1c" stroke-width="0.22">p-cresol-glucuronide*</text>
<text x="537.5" y="95.5" font-family="'Liberation Sans', Arial, Helvetica, sans-serif" font-size="10.6" fill="#1c1c1c" text-anchor="start" textLength="103.7" lengthAdjust="spacingAndGlyphs" stroke="#1c1c1c" stroke-width="0.22">taurocholenate sulfate</text>
</g>
<g id="volcano-legend">
<rect x="649.8" y="3.4" width="15.8" height="123.2" fill="#f2f2f5"/>
<circle cx="658.5" cy="10.8" r="1.7" fill="#E8626C"/>
<text transform="translate(669.2,13.7) scale(1,0.93)" font-family="'Liberation Sans', Arial, Helvetica, sans-serif" font-size="10.3" fill="#111" text-anchor="start" textLength="52.6" lengthAdjust="spacingAndGlyphs" stroke="#111" stroke-width="0.35">Amino Acid</text>
<circle cx="658.5" cy="26.2" r="1.7" fill="#BD8B00"/>
<text transform="translate(669.2,29.4) scale(1,0.93)" font-family="'Liberation Sans', Arial, Helvetica, sans-serif" font-size="10.3" fill="#111" text-anchor="start" textLength="62.6" lengthAdjust="spacingAndGlyphs" stroke="#111" stroke-width="0.35">Carbohydrate</text>
<circle cx="658.5" cy="41.7" r="1.7" fill="#72A208"/>
<text transform="translate(669.2,45.9) scale(1,0.93)" font-family="'Liberation Sans', Arial, Helvetica, sans-serif" font-size="10.3" fill="#111" text-anchor="start" textLength="106.2" lengthAdjust="spacingAndGlyphs" stroke="#111" stroke-width="0.35">Cofactors and Vitamins</text>
<circle cx="658.5" cy="57.0" r="1.7" fill="#08AC62"/>
<text transform="translate(669.2,62.2) scale(1,0.93)" font-family="'Liberation Sans', Arial, Helvetica, sans-serif" font-size="10.3" fill="#111" text-anchor="start" textLength="31.2" lengthAdjust="spacingAndGlyphs" stroke="#111" stroke-width="0.35">Energy</text>
<circle cx="658.5" cy="72.4" r="1.7" fill="#0AAEAC"/>
<text transform="translate(669.2,76.7) scale(1,0.93)" font-family="'Liberation Sans', Arial, Helvetica, sans-serif" font-size="10.3" fill="#111" text-anchor="start" textLength="21.9" lengthAdjust="spacingAndGlyphs" stroke="#111" stroke-width="0.35">Lipid</text>
<circle cx="658.5" cy="88.1" r="1.7" fill="#0C96E6"/>
<text transform="translate(669.2,91.4) scale(1,0.93)" font-family="'Liberation Sans', Arial, Helvetica, sans-serif" font-size="10.3" fill="#111" text-anchor="start" textLength="50.1" lengthAdjust="spacingAndGlyphs" stroke="#111" stroke-width="0.35">Nucleotide</text>
<circle cx="658.5" cy="103.4" r="1.7" fill="#B672EC"/>
<text transform="translate(669.2,108.7) scale(1,0.93)" font-family="'Liberation Sans', Arial, Helvetica, sans-serif" font-size="10.3" fill="#111" text-anchor="start" textLength="77.6" lengthAdjust="spacingAndGlyphs" stroke="#111" stroke-width="0.35">Partially Charact.</text>
<circle cx="658.5" cy="119.2" r="1.7" fill="#F056C0"/>
<text transform="translate(669.2,123.7) scale(1,0.93)" font-family="'Liberation Sans', Arial, Helvetica, sans-serif" font-size="10.3" fill="#111" text-anchor="start" textLength="35.0" lengthAdjust="spacingAndGlyphs" stroke="#111" stroke-width="0.35">Peptide</text>
</g>
<text x="395.2" y="404.5" font-family="'Liberation Sans', Arial, Helvetica, sans-serif" font-size="15" fill="#222" text-anchor="middle" stroke="#222" stroke-width="0.2">a</text>
<g id="forest-panels" fill="#ebebeb">
<rect x="244.7" y="480.5" width="289.5" height="44.2"/>
<rect x="244.7" y="528.9" width="289.5" height="44.2"/>
<rect x="244.7" y="577.5" width="289.5" height="44.2"/>
<rect x="244.7" y="626.0" width="289.5" height="44.2"/>
<rect x="244.7" y="674.5" width="289.5" height="44.2"/>
<rect x="244.7" y="723.0" width="289.5" height="44.2"/>
<rect x="244.7" y="771.4" width="289.5" height="44.2"/>
<rect x="244.7" y="819.9" width="289.5" height="44.2"/>
</g>
<path d="M389.5 480.8 V863.9" stroke="#484848" stroke-width="1.0" stroke-dasharray="2.2 2.3" fill="none"/>
<g id="forest-rows">
<path d="M298.6 502.7 H358.9" stroke="#EE7286" stroke-width="1.5" fill="none"/>
<circle cx="329.2" cy="502.7" r="3.90" fill="#F56C64"/>
<text x="66.9" y="509.6" font-family="'Liberation Sans', Arial, Helvetica, sans-serif" font-size="16.8" fill="#1a1a1a" text-anchor="start" textLength="173.5" lengthAdjust="spacingAndGlyphs" stroke="#1a1a1a" stroke-width="0.18">isobutyrylcarnitine (C4)</text>
<path d="M310.7 551.2 H365.0" stroke="#EE7286" stroke-width="1.5" fill="none"/>
<rect x="334.2" y="547.5" width="7.5" height="7.5" fill="#F56C64"/>
<text x="70.5" y="558.1" font-family="'Liberation Sans', Arial, Helvetica, sans-serif" font-size="16.8" fill="#1a1a1a" text-anchor="start" textLength="165.9" lengthAdjust="spacingAndGlyphs" stroke="#1a1a1a" stroke-width="0.18">phenylacetylglutamine</text>
<path d="M410.3 599.6 H464.5" stroke="#EE7286" stroke-width="1.5" fill="none"/>
<path d="M438.0 594.7 L442.7 602.4 H433.3 Z" fill="#F56C64"/>
<text x="70.5" y="606.5" font-family="'Liberation Sans', Arial, Helvetica, sans-serif" font-size="16.8" fill="#1a1a1a" text-anchor="start" textLength="165.9" lengthAdjust="spacingAndGlyphs" stroke="#1a1a1a" stroke-width="0.18">taurocholenate sulfate</text>
<path d="M282.8 648.1 H360.9" stroke="#EE7286" stroke-width="1.5" fill="none"/>
<path d="M322.0 643.2 L326.7 650.9 H317.3 Z" fill="#F56C64"/>
<text x="68.3" y="655.0" font-family="'Liberation Sans', Arial, Helvetica, sans-serif" font-size="16.8" fill="#1a1a1a" text-anchor="start" textLength="170.9" lengthAdjust="spacingAndGlyphs" stroke="#1a1a1a" stroke-width="0.18">propionylcarnitine (C3)</text>
<path d="M345.2 696.8 H377.9" stroke="#EE7286" stroke-width="1.5" fill="none"/>
<rect x="358.2" y="693.0" width="7.5" height="7.5" fill="#F56C64"/>
<text x="75.4" y="703.7" font-family="'Liberation Sans', Arial, Helvetica, sans-serif" font-size="16.8" fill="#1a1a1a" text-anchor="start" textLength="156.8" lengthAdjust="spacingAndGlyphs" stroke="#1a1a1a" stroke-width="0.18">phenylacetylcarnitine</text>
<path d="M341.6 745.5 H378.2" stroke="#EE7286" stroke-width="1.5" fill="none"/>
<circle cx="360.2" cy="745.5" r="3.90" fill="#F56C64"/>
<text x="73.1" y="752.4" font-family="'Liberation Sans', Arial, Helvetica, sans-serif" font-size="16.8" fill="#1a1a1a" text-anchor="start" textLength="161.0" lengthAdjust="spacingAndGlyphs" stroke="#1a1a1a" stroke-width="0.18">p-cresol-glucuronide*</text>
<path d="M328.5 794.0 H375.1" stroke="#EE7286" stroke-width="1.5" fill="none"/>
<rect x="347.9" y="790.2" width="7.5" height="7.5" fill="#F56C64"/>
<text x="70.3" y="800.9" font-family="'Liberation Sans', Arial, Helvetica, sans-serif" font-size="16.8" fill="#1a1a1a" text-anchor="start" textLength="166.7" lengthAdjust="spacingAndGlyphs" stroke="#1a1a1a" stroke-width="0.18">phenylacetylglutamate</text>
<path d="M316.9 841.9 H372.5" stroke="#EE7286" stroke-width="1.5" fill="none"/>
<path d="M345.0 837.0 L349.7 844.7 H340.3 Z" fill="#F56C64"/>
<text x="66.9" y="848.8" font-family="'Liberation Sans', Arial, Helvetica, sans-serif" font-size="16.8" fill="#1a1a1a" text-anchor="start" textLength="173.5" lengthAdjust="spacingAndGlyphs" stroke="#1a1a1a" stroke-width="0.18">trimethylamine N-oxide</text>
</g>
<g id="forest-xaxis">
<path d="M269.6 863.9 V866.4" stroke="#444" stroke-width="0.9"/>
<path d="M329.2 863.9 V866.4" stroke="#444" stroke-width="0.9"/>
<path d="M389.4 863.9 V866.4" stroke="#444" stroke-width="0.9"/>
<path d="M449.2 863.9 V866.4" stroke="#444" stroke-width="0.9"/>
<path d="M509.5 863.9 V866.4" stroke="#444" stroke-width="0.9"/>
<text x="252.0" y="884.3" font-family="'Liberation Sans', Arial, Helvetica, sans-serif" font-size="19.5" fill="#4d4d4d" text-anchor="start" textLength="34.4" lengthAdjust="spacingAndGlyphs" >-1.0</text>
<text x="311.1" y="884.3" font-family="'Liberation Sans', Arial, Helvetica, sans-serif" font-size="19.5" fill="#4d4d4d" text-anchor="start" textLength="35.7" lengthAdjust="spacingAndGlyphs" >-0.5</text>
<text x="435.3" y="884.3" font-family="'Liberation Sans', Arial, Helvetica, sans-serif" font-size="19.5" fill="#4d4d4d" text-anchor="start" textLength="27.2" lengthAdjust="spacingAndGlyphs" >0.5</text>
<text x="495.6" y="884.3" font-family="'Liberation Sans', Arial, Helvetica, sans-serif" font-size="19.5" fill="#4d4d4d" text-anchor="start" textLength="26.7" lengthAdjust="spacingAndGlyphs" >1.0</text>
<text x="297.3" y="905.8" font-family="'Liberation Sans', Arial, Helvetica, sans-serif" font-size="20.6" fill="#111" text-anchor="start" textLength="184.1" lengthAdjust="spacingAndGlyphs" >Coefficient (95% CI)</text>
</g>
<text transform="translate(56.4,721.0) rotate(-90)" font-family="'Liberation Sans', Arial, Helvetica, sans-serif" font-size="21" fill="#111" stroke="#111" stroke-width="0.25" textLength="98.2" lengthAdjust="spacingAndGlyphs">Metabolite</text>
<g id="forest-legend">
<rect x="567.3" y="639.7" width="17.9" height="10.9" fill="#ebebeb"/>
<path d="M567.3 644.4 H585.2" stroke="#EE7286" stroke-width="1.2"/>
<circle cx="576.1" cy="644.4" r="3.59" fill="#F56C64"/>
<text x="592.4" y="653.5" font-family="'Liberation Sans', Arial, Helvetica, sans-serif" font-size="19.4" fill="#111" text-anchor="start" textLength="103.0" lengthAdjust="spacingAndGlyphs" stroke="#111" stroke-width="0.3">Amino Acid</text>
<rect x="567.6" y="658.2" width="17.9" height="13.2" fill="#ebebeb"/>
<path d="M567.6 664.6 H585.5" stroke="#EE7286" stroke-width="1.2"/>
<path d="M576.1 660.5 L579.9 666.6 H572.3 Z" fill="#F56C64"/>
<text x="592.4" y="672.7" font-family="'Liberation Sans', Arial, Helvetica, sans-serif" font-size="19.4" fill="#111" text-anchor="start" textLength="42.3" lengthAdjust="spacingAndGlyphs" stroke="#111" stroke-width="0.3">Lipid</text>
<rect x="566.2" y="680.3" width="21.3" height="13.9" fill="#ebebeb"/>
<path d="M566.2 687.6 H587.5" stroke="#EE7286" stroke-width="1.2"/>
<rect x="572.8" y="684.3" width="6.6" height="6.6" fill="#F56C64"/>
<text x="592.4" y="692.7" font-family="'Liberation Sans', Arial, Helvetica, sans-serif" font-size="19.4" fill="#111" text-anchor="start" textLength="68.0" lengthAdjust="spacingAndGlyphs" stroke="#111" stroke-width="0.3">Peptide</text>
</g>
<text x="395.4" y="958.0" font-family="'Liberation Sans', Arial, Helvetica, sans-serif" font-size="15.4" fill="#222" text-anchor="middle" stroke="#222" stroke-width="0.2">b</text>
</svg>
</body>
</html>
